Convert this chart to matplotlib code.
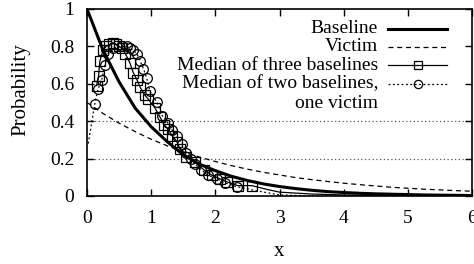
import matplotlib
matplotlib.use("Agg")
import matplotlib.pyplot as plt
from matplotlib.lines import Line2D

plt.rcParams['font.family'] = ['Liberation Serif', 'DejaVu Serif']
plt.rcParams['font.size'] = 14

# Smooth curves (x step 0.25)
curve_x = [0.0, 0.25, 0.5, 0.75, 1.0, 1.25, 1.5, 1.75, 2.0, 2.25, 2.5, 2.75, 3.0,
           3.25, 3.5, 3.75, 4.0, 4.25, 4.5, 4.75, 5.0, 5.25, 5.5, 5.75, 6.0]
baseline_y = [1.00, 0.78, 0.61, 0.47, 0.37, 0.29, 0.22, 0.17, 0.135, 0.105, 0.082, 0.064,
              0.050, 0.039, 0.030, 0.023, 0.018, 0.014, 0.011, 0.009, 0.007, 0.005,
              0.004, 0.003, 0.002]
victim_y = [0.50, 0.441, 0.389, 0.344, 0.303, 0.268, 0.236, 0.208, 0.184, 0.162, 0.143,
            0.126, 0.112, 0.098, 0.087, 0.077, 0.068, 0.060, 0.053, 0.046, 0.041, 0.036,
            0.032, 0.028, 0.025]

# Median of three baselines (squares)
three_x = [0.15, 0.18, 0.2, 0.25, 0.3, 0.35, 0.4, 0.45, 0.5, 0.55, 0.6, 0.67, 0.72, 0.78,
           0.83, 0.9, 0.95, 1.06, 1.14, 1.2, 1.26, 1.33, 1.4, 1.45, 1.55, 1.68, 1.82,
           1.95, 2.08, 2.18, 2.35, 2.57, 2.8, 3.0, 3.5, 4.0, 5.0, 6.0]
three_y = [0.59, 0.64, 0.72, 0.78, 0.80, 0.81, 0.82, 0.81, 0.80, 0.79, 0.76, 0.71, 0.66,
           0.62, 0.58, 0.54, 0.52, 0.47, 0.42, 0.38, 0.36, 0.32, 0.29, 0.25, 0.21, 0.18,
           0.14, 0.11, 0.09, 0.075, 0.055, 0.055, 0.035, 0.02, 0.01, 0.005, 0.002, 0.0]
three_marked = 32  # markers shown on the first points only

# Median of two baselines, one victim (circles)
two_x = [0.02, 0.12, 0.17, 0.23, 0.28, 0.33, 0.41, 0.54, 0.62, 0.67, 0.72, 0.78, 0.83,
         0.88, 0.93, 0.98, 1.09, 1.17, 1.26, 1.33, 1.4, 1.48, 1.55, 1.62, 1.68, 1.78,
         1.89, 2.03, 2.15, 2.33, 2.6, 3.0, 3.5, 6.0]
two_y = [0.28, 0.49, 0.57, 0.62, 0.70, 0.76, 0.79, 0.80, 0.80, 0.79, 0.78, 0.76, 0.72,
         0.68, 0.63, 0.56, 0.50, 0.43, 0.39, 0.35, 0.32, 0.28, 0.23, 0.20, 0.17, 0.14,
         0.11, 0.09, 0.07, 0.05, 0.03, 0.005, 0.0, 0.0]

xticks = [0, 1, 2, 3, 4, 5, 6]
yticks = [0, 0.2, 0.4, 0.6, 0.8, 1.0]
ytick_labels = ['0', '0.2', '0.4', '0.6', '0.8', '1']
grid_levels = [0.2, 0.4]

labels = ['Baseline', 'Victim', 'Median of three baselines',
          'Median of two baselines,', 'one victim']

fig = plt.figure(figsize=(4.74, 2.64), dpi=100)
ax = fig.add_axes([0.1835, 0.258, 0.8125, 0.708])

for g in grid_levels:
    ax.axhline(g, color='#555555', lw=0.9, ls=(0, (1, 2)), zorder=1)

ax.plot(curve_x, baseline_y, color='black', lw=2.2, zorder=3)
ax.plot(curve_x, victim_y, color='black', lw=0.9, ls=(0, (4, 3)), zorder=3)
ax.plot(three_x, three_y, color='black', lw=0.9, marker='s', ms=6.5, mfc='none',
        mew=0.9, markevery=list(range(three_marked)), zorder=4)
ax.plot(two_x, two_y, color='black', lw=0.9, ls=(0, (1.5, 2)), marker='o', ms=7,
        mfc='none', mew=0.9, markevery=list(range(1, 30)), zorder=4)

ax.set_xlim(0, 6)
ax.set_ylim(0, 1)
ax.set_xticks(xticks)
ax.set_yticks(yticks)
ax.set_yticklabels(ytick_labels)
ax.tick_params(direction='in', length=5, width=1, top=True, right=True,
               labelsize=14)
ax.tick_params(axis='y', pad=9)
ax.tick_params(axis='x', pad=10)
for s in ax.spines.values():
    s.set_linewidth(1.2)

ax.set_xlabel('x', fontsize=15, labelpad=11)
ax.set_ylabel('Probability', fontsize=15)
ax.yaxis.set_label_coords(-0.147, 0.57)

# manual legend (text right-aligned, sample to the right)
tx = 0.756
sx0, sx1 = 0.782, 0.935
rows = [0.893, 0.797, 0.70, 0.599, 0.492]
styles = [dict(color='black', lw=2.2),
          dict(color='black', lw=0.9, ls=(0, (4, 3))),
          dict(color='black', lw=0.9, marker='s', ms=6, mfc='none', mew=0.9,
               markevery=[1]),
          dict(color='black', lw=0.9, ls=(0, (1.5, 2)), marker='o', ms=6, mfc='none',
               mew=0.9, markevery=[1])]
for i, lab in enumerate(labels):
    ax.text(tx, rows[i], lab, transform=ax.transAxes, ha='right', va='center',
            fontsize=14, zorder=6)
for i, st in enumerate(styles):
    ax.add_line(Line2D([sx0, (sx0 + sx1) / 2, sx1], [rows[i]] * 3,
                       transform=ax.transAxes, zorder=6, **st))

fig.savefig('out.png', dpi=100)
